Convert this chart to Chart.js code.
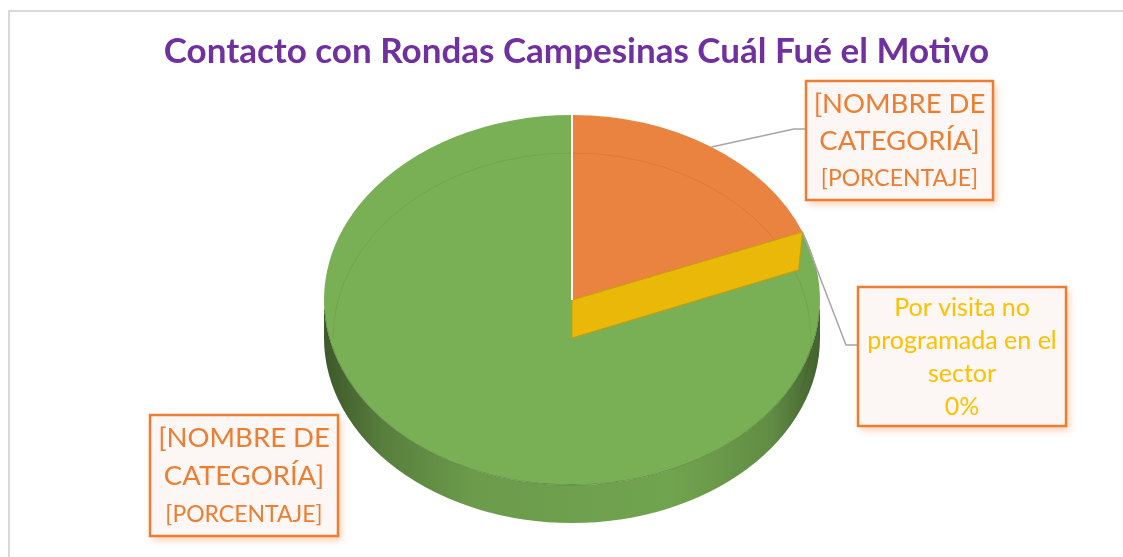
<!DOCTYPE html>
<html lang="es">
<head>
<meta charset="utf-8">
<title>Contacto con Rondas Campesinas</title>
<script src="https://cdn.jsdelivr.net/npm/chart.js@4.4.1/dist/chart.umd.min.js"></script>
<style>
  html, body { margin: 0; padding: 0; background: #fff; }
  #wrap { position: relative; width: 1123px; height: 557px; overflow: hidden; }
  #frame { position: absolute; left: 8px; top: 10px; width: 1140px; height: 600px;
           border: 2px solid #d9d9d9; box-sizing: border-box; }
  canvas { position: absolute; left: 0; top: 0; }
</style>
</head>
<body>
<div id="wrap">
  <div id="frame"></div>
  <canvas id="chart" width="1123" height="557"></canvas>
</div>
<script>
var TITLE = 'Contacto con Rondas Campesinas Cuál Fué el Motivo';
var categories = ['[NOMBRE DE CATEGORÍA]', 'Por visita no programada en el sector', '[NOMBRE DE CATEGORÍA]'];
var values = [19, 0, 81];
var valueTexts = ['[PORCENTAJE]', '0%', '[PORCENTAJE]'];
var sliceColors = ['#E9833F', '#EAB808', '#7AB055'];

// where the tilted pie sits on the page
var PIE = { cx: 572, cy: 300, rx: 248, ry: 185, depth: 38 };

// data label boxes, same order as categories
var labelBoxes = [
  { x: 806, y: 81,  w: 187, h: 119, nameSize: 27.5, valueSize: 23, lh: 37.5, color: '#ED7D31', elbowY: 129 },
  { x: 858, y: 287, w: 208, h: 139, nameSize: 25,   valueSize: 25, lh: 33,   color: '#FFC000', elbowY: 345 },
  { x: 150, y: 415, w: 188, h: 121, nameSize: 27.5, valueSize: 23, lh: 38,   color: '#ED7D31' }
];

var FONT = 'Lato, "Open Sans", sans-serif';

function shade(hex, f) {
  var n = parseInt(hex.slice(1), 16);
  var r = Math.round(((n >> 16) & 255) * f);
  var g = Math.round(((n >> 8) & 255) * f);
  var b = Math.round((n & 255) * f);
  return 'rgb(' + r + ',' + g + ',' + b + ')';
}

function rim(angle, dy) {
  return { x: PIE.cx + PIE.rx * Math.cos(angle), y: PIE.cy + (dy || 0) + PIE.ry * Math.sin(angle) };
}

function wrap(ctx, text, maxW) {
  var words = text.split(' '), lines = [], cur = '';
  for (var i = 0; i < words.length; i++) {
    var test = cur ? cur + ' ' + words[i] : words[i];
    if (cur && ctx.measureText(test).width > maxW) {
      lines.push(cur);
      cur = words[i];
    } else {
      cur = test;
    }
  }
  if (cur) lines.push(cur);
  return lines;
}

var pie3d = {
  id: 'pie3d',
  beforeDatasetsDraw: function (chart) {
    var ctx = chart.ctx;
    var arcs = chart.getDatasetMeta(0).data;
    var a0 = arcs[0];
    var d = PIE.depth;

    // front side walls
    arcs.forEach(function (arc, i) {
      var s = Math.max(arc.startAngle, 0);
      var e = Math.min(arc.endAngle, Math.PI);
      if (e <= s) return;
      var c = sliceColors[i];
      var g = ctx.createLinearGradient(PIE.cx - PIE.rx, 0, PIE.cx + PIE.rx, 0);
      g.addColorStop(0, shade(c, 0.5));
      g.addColorStop(0.12, shade(c, 0.72));
      g.addColorStop(0.3, shade(c, 0.88));
      g.addColorStop(0.7, shade(c, 0.93));
      g.addColorStop(0.9, shade(c, 0.8));
      g.addColorStop(1, shade(c, 0.55));
      var p = rim(e, d);
      ctx.beginPath();
      ctx.ellipse(PIE.cx, PIE.cy, PIE.rx, PIE.ry, 0, s, e);
      ctx.lineTo(p.x, p.y);
      ctx.ellipse(PIE.cx, PIE.cy + d, PIE.rx, PIE.ry, 0, e, s, true);
      ctx.closePath();
      ctx.fillStyle = g;
      ctx.fill();
    });

    // squash the library's circle into the tilted ellipse
    ctx.save();
    ctx.translate(PIE.cx, PIE.cy);
    ctx.scale(PIE.rx / a0.outerRadius, PIE.ry / a0.outerRadius);
    ctx.translate(-a0.x, -a0.y);
  },
  afterDatasetsDraw: function (chart) {
    var ctx = chart.ctx;
    var arcs = chart.getDatasetMeta(0).data;
    var d = PIE.depth;
    ctx.restore();

    // faint bevel line and front edge on the top face
    ctx.save();
    ctx.beginPath();
    ctx.ellipse(PIE.cx, PIE.cy + d, PIE.rx - 9, PIE.ry, 0, Math.PI, 2 * Math.PI + 0.3);
    ctx.strokeStyle = 'rgba(0,0,0,0.07)';
    ctx.lineWidth = 1;
    ctx.stroke();
    ctx.beginPath();
    ctx.ellipse(PIE.cx, PIE.cy, PIE.rx, PIE.ry, 0, 0.05, Math.PI - 0.05);
    ctx.strokeStyle = 'rgba(40,70,20,0.35)';
    ctx.stroke();
    ctx.restore();

    // zero slices still show their cut face
    arcs.forEach(function (arc, i) {
      if (arc.endAngle - arc.startAngle > 0.001) return;
      var p = rim(arc.startAngle, 0);
      var q = rim(arc.startAngle, d);
      ctx.beginPath();
      ctx.moveTo(PIE.cx, PIE.cy);
      ctx.lineTo(p.x, p.y);
      ctx.lineTo(q.x - 4, q.y);
      ctx.lineTo(PIE.cx, PIE.cy + d);
      ctx.closePath();
      ctx.fillStyle = sliceColors[i];
      ctx.fill();
      ctx.strokeStyle = shade(sliceColors[i], 0.85);
      ctx.lineWidth = 1;
      ctx.stroke();
    });

    // light seam at the start of the first slice
    var top = rim(arcs[0].startAngle, 0);
    ctx.beginPath();
    ctx.moveTo(PIE.cx, PIE.cy);
    ctx.lineTo(top.x, top.y);
    ctx.strokeStyle = 'rgba(255,255,255,0.9)';
    ctx.lineWidth = 2;
    ctx.stroke();
  }
};

var pieLabels = {
  id: 'pieLabels',
  afterDraw: function (chart) {
    var ctx = chart.ctx;
    var arcs = chart.getDatasetMeta(0).data;

    labelBoxes.forEach(function (b, i) {
      var arc = arcs[i];
      ctx.save();

      if (b.elbowY !== undefined) {
        var a = rim((arc.startAngle + arc.endAngle) / 2, 0);
        ctx.beginPath();
        ctx.moveTo(a.x, a.y);
        ctx.lineTo(b.x - 12, b.elbowY);
        ctx.lineTo(b.x, b.elbowY);
        ctx.strokeStyle = '#A6A6A6';
        ctx.lineWidth = 1.5;
        ctx.stroke();
      }

      ctx.shadowColor = 'rgba(237,125,49,0.4)';
      ctx.shadowBlur = 7;
      ctx.shadowOffsetX = 3;
      ctx.shadowOffsetY = 4;
      ctx.fillStyle = '#FCF7F4';
      ctx.fillRect(b.x, b.y, b.w, b.h);
      ctx.shadowColor = 'transparent';
      ctx.strokeStyle = '#ED7D31';
      ctx.lineWidth = 2.5;
      ctx.strokeRect(b.x, b.y, b.w, b.h);

      ctx.font = b.nameSize + 'px ' + FONT;
      var lines = wrap(ctx, categories[i], b.w - 12).map(function (t) {
        return { t: t, size: b.nameSize };
      });
      lines.push({ t: valueTexts[i], size: b.valueSize });

      ctx.fillStyle = b.color;
      ctx.textAlign = 'center';
      ctx.textBaseline = 'middle';
      var cx = b.x + b.w / 2;
      var cy = b.y + b.h / 2 + 1;
      lines.forEach(function (l, k) {
        ctx.font = l.size + 'px ' + FONT;
        ctx.fillText(l.t, cx, cy + (k - (lines.length - 1) / 2) * b.lh);
      });
      ctx.restore();
    });
  }
};

new Chart(document.getElementById('chart'), {
  type: 'pie',
  data: {
    labels: categories,
    datasets: [{
      data: values,
      backgroundColor: sliceColors,
      borderWidth: 0
    }]
  },
  options: {
    responsive: false,
    animation: false,
    events: [],
    layout: { padding: { left: 30 } },
    plugins: {
      legend: { display: false },
      tooltip: { enabled: false },
      title: {
        display: true,
        text: TITLE,
        color: '#7030A0',
        font: { family: FONT, size: 35, weight: 'bold', lineHeight: 1.2 },
        padding: { top: 31, bottom: 10 }
      }
    }
  },
  plugins: [pie3d, pieLabels]
});
</script>
</body>
</html>
